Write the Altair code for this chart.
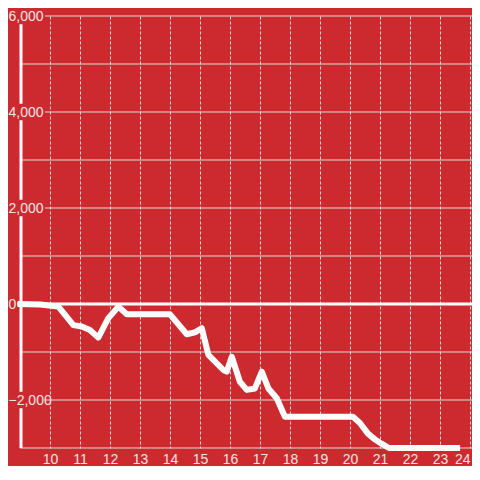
import altair as alt
import pandas as pd

# data
hours = [8.92, 9.67, 10.28, 10.78, 11.06, 11.33, 11.61, 11.94, 12.28, 12.56,
         14.0, 14.56, 14.83, 15.06, 15.28, 15.78, 15.89, 16.06, 16.33, 16.56,
         16.83, 17.06, 17.28, 17.56, 17.83, 20.1, 20.33, 20.6, 20.85, 21.05,
         21.3, 23.67]
values = [0, -10, -55, -440, -470, -540, -700, -300, -55, -215,
          -215, -630, -590, -505, -1060, -1375, -1410, -1100, -1620, -1790,
          -1760, -1410, -1760, -1965, -2350, -2350, -2480, -2700, -2830, -2910,
          -3000, -3000]

x_ticks = list(range(10, 25))
y_label_ticks = [-2000, 0, 2000, 4000, 6000]
y_grid = [-3000, -2000, -1000, 0, 1000, 2000, 3000, 4000, 5000, 6000]

BG = "#cd2a2f"
GRID = "#d9d9d9"
LABEL = "#f3e3e3"
FONT = "Liberation Sans"

x_dom = [9, 24.0667]
y_dom = [-3000, 6000]

x_axis = alt.Axis(values=x_ticks, title=None, grid=True, gridColor=GRID,
                  gridDash=[3, 2], gridWidth=1, domain=False, ticks=False,
                  tickSize=0, labelPadding=4, labelFontSize=14,
                  labelColor=LABEL, labelFont=FONT, labelFlush=5,
                  labelOverlap=False)
y_axis = alt.Axis(values=y_label_ticks, format=",.0f", title=None, grid=False,
                  domain=False, ticks=False, tickSize=0, labelAlign="left",
                  labelBaseline="middle", labelPadding=12, labelFontSize=14,
                  labelColor=LABEL, labelFont=FONT, labelFlush=False,
                  labelOverlap=False, zindex=1)

xs = alt.Scale(domain=x_dom, nice=False, zero=False)
ys = alt.Scale(domain=y_dom, nice=False, zero=False)

line_df = pd.DataFrame({"hour": hours, "value": values})
grid_df = pd.DataFrame({"g": y_grid})
mask_df = pd.DataFrame({"t": [v for v in y_label_ticks if v != 0]})
zero_df = pd.DataFrame({"z": [0]})
one_df = pd.DataFrame({"a": [0]})

hgrid = alt.Chart(grid_df).mark_rule(color=GRID, strokeWidth=1).encode(
    y=alt.Y("g:Q", scale=ys, axis=y_axis)
)

yline = alt.Chart(one_df).mark_rule(color="white", strokeWidth=3).encode(
    x=alt.value(1)
)

masks = alt.Chart(mask_df).transform_calculate(
    lo="datum.t - 170", hi="datum.t + 170"
).mark_rect(color=BG).encode(
    y=alt.Y("lo:Q", scale=ys, axis=y_axis),
    y2="hi:Q",
    x=alt.value(-15),
    x2=alt.value(25),
)

zero = alt.Chart(zero_df).mark_rule(color="white", strokeWidth=3).encode(
    y=alt.Y("z:Q", scale=ys, axis=y_axis),
    x=alt.value(-3),
    x2=alt.value(452),
)

line = alt.Chart(line_df).mark_line(
    color="white", strokeWidth=6, strokeJoin="round", strokeCap="butt",
    clip=False
).encode(
    x=alt.X("hour:Q", scale=xs, axis=x_axis),
    y=alt.Y("value:Q", scale=ys, axis=y_axis),
)

chart = alt.layer(hgrid, yline, masks, zero, line).properties(
    width=452,
    height=432,
    autosize=alt.AutoSizeParams(type="none"),
    padding={"left": 12, "top": 8, "right": 0, "bottom": 18},
    background=BG,
).configure_view(stroke=None, fill=BG)

chart.save("out.html", embed_options={"renderer": "svg", "actions": False})
